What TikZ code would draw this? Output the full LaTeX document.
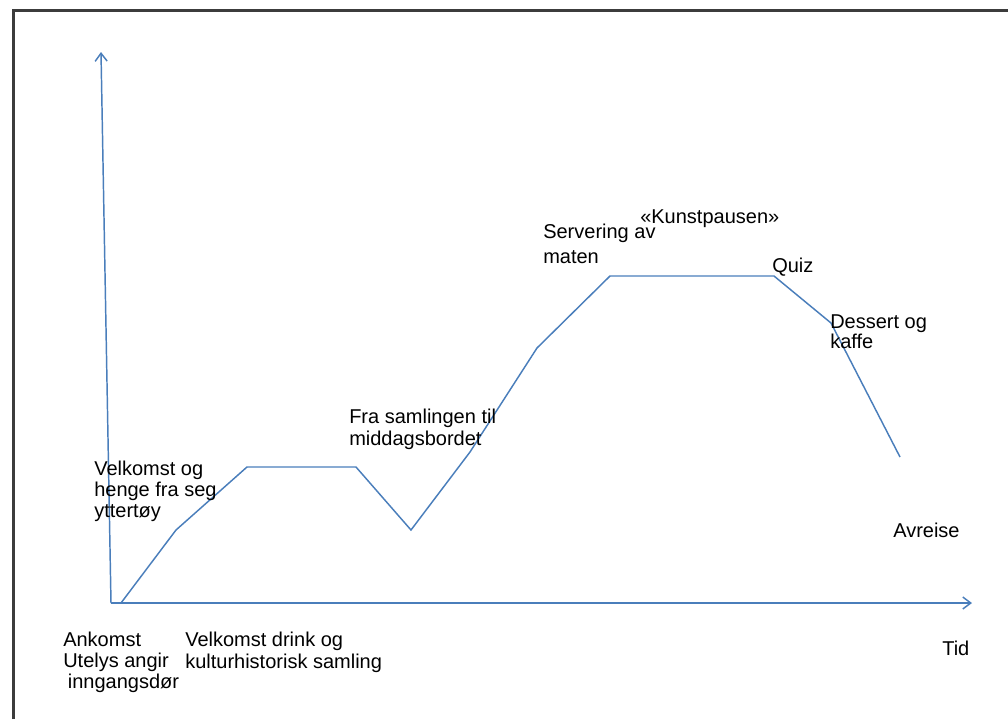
\documentclass[tikz,border=0pt]{standalone}
\usepackage{fontspec}
\setmainfont{Liberation Sans}
\usetikzlibrary{arrows.meta}
\definecolor{curveblue}{HTML}{4A7EBB}
\definecolor{framegray}{HTML}{3C3C3C}
\tikzset{
  axis/.style={draw=curveblue, line width=1.1pt, -{Straight Barb[length=6pt,width=9pt,line width=1.1pt]}},
  curve/.style={draw=curveblue, line width=1.1pt, line join=miter},
  frame/.style={draw=framegray, line width=1.8pt},
  lbl/.style={anchor=base west, inner sep=0pt, align=left, text=black, font=\fontsize{15}{15.75}\selectfont},
}
\begin{document}
\begin{tikzpicture}[x=0.75pt, y=-0.75pt]
\useasboundingbox (0,0) rectangle (1008,719);
% frame
\coordinate (fa) at (13.5,719);
\coordinate (fb) at (13.5,10.5);
\coordinate (fc) at (1008,10.5);
\draw[frame] (fa) -- (fb) -- (fc);
% axes
\coordinate (O) at (111,603);
\coordinate (Ytop) at (101,52);
\coordinate (Xend) at (972,603);
\draw[axis] (O) -- (Ytop);
\draw[axis] (O) -- (Xend);
% curve
\coordinate (p0) at (121,603);
\coordinate (p1) at (176,530);
\coordinate (p2) at (247,467);
\coordinate (p3) at (356,467);
\coordinate (p4) at (411,530);
\coordinate (p5) at (470,452);
\coordinate (p6) at (537,348);
\coordinate (p7) at (610,276);
\coordinate (p8) at (774,276);
\coordinate (p9) at (831,323);
\coordinate (p10) at (900,457);
\draw[curve] (p0) -- (p1) -- (p2) -- (p3) -- (p4) -- (p5) -- (p6) -- (p7) -- (p8) -- (p9) -- (p10);
% labels (multi-line nodes: base anchor is on the last line)
\node[lbl, font=\fontsize{15}{15.75}\selectfont] (ankomst) at (63,688) {Ankomst\\Utelys angir\\\hspace{3.5pt}inngangsdør};
\node[lbl, font=\fontsize{15}{16.5}\selectfont] (drink) at (185,668) {Velkomst drink og\\kulturhistorisk samling};
\node[lbl] (tid) at (942,655) {Tid};
\node[lbl, font=\fontsize{15}{15.75}\selectfont] (velk) at (94,517) {Velkomst og\\henge fra seg\\yttertøy};
\node[lbl, font=\fontsize{15}{16.5}\selectfont] (fra) at (349,445) {Fra samlingen til\\middagsbordet};
\node[lbl, font=\fontsize{15}{18.75}\selectfont] (serv) at (543,263) {Servering av\\maten};
\node[lbl] (kunst) at (640,223) {«Kunstpausen»};
\node[lbl] (quiz) at (772,272) {Quiz};
\node[lbl, font=\fontsize{15}{15}\selectfont] (dessert) at (830,348) {Dessert og\\kaffe};
\node[lbl] (avreise) at (893,537) {Avreise};
\end{tikzpicture}
\end{document}
